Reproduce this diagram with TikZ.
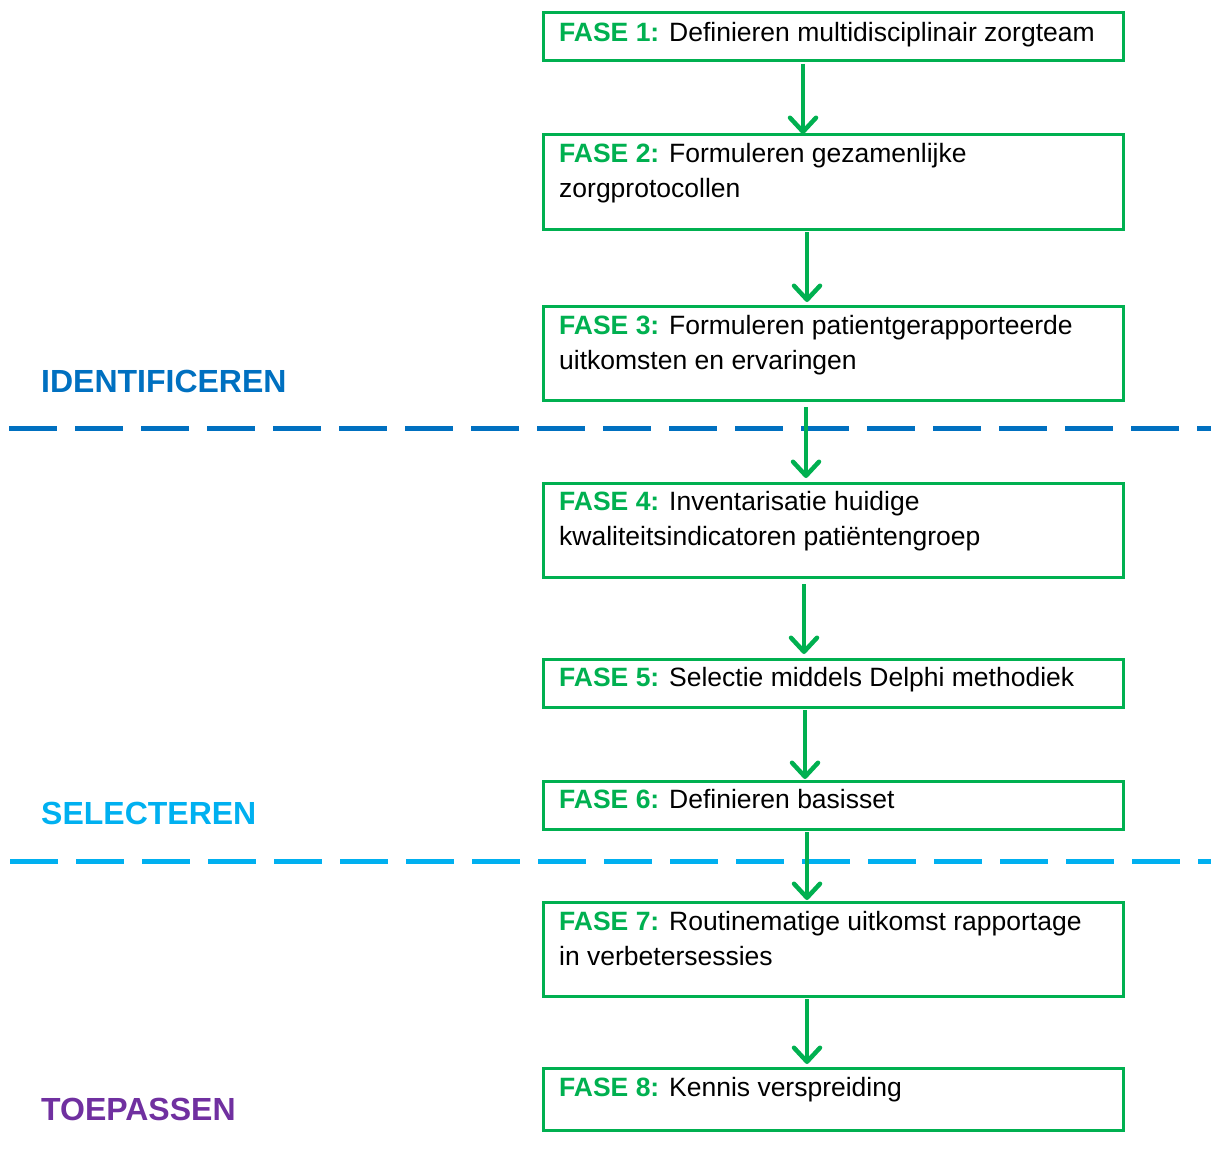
\documentclass[tikz,border=0pt]{standalone}
\usepackage{fontspec}
\setmainfont{Liberation Sans}
\usetikzlibrary{arrows.meta,calc}
\definecolor{fgreen}{HTML}{00B050}
\definecolor{fblue}{HTML}{0070C0}
\definecolor{flblue}{HTML}{00B0F0}
\definecolor{fpurple}{HTML}{7030A0}
\tikzset{
  box/.style={draw=fgreen, line width=3pt, minimum width=580pt, outer sep=0pt, inner sep=0pt, anchor=north west},
  txt/.style={anchor=base west, inner sep=0pt, font=\fontsize{26.5}{35}\selectfont},
  arr/.style={draw=fgreen, line width=4.5pt, -{Straight Barb[length=14pt, width=26pt, line cap=round, line join=round]}},
  phase/.style={anchor=base west, inner sep=0pt, font=\fontsize{32}{38}\selectfont\bfseries},
  sep/.style={line width=5pt, dash pattern=on 48pt off 18pt},
}
\newcommand{\fase}[1]{\textcolor{fgreen}{\textbf{FASE #1:}}}
\newcommand{\twolines}[2]{\begin{tabular}[t]{@{}l@{}}#1\\#2\end{tabular}}
\begin{document}
\begin{tikzpicture}[x=1pt, y=-1pt]
\useasboundingbox (0,0) rectangle (1211,1153);
% boxes
\node[box, minimum height=48pt] (b1) at (543,13) {};
\node[box, minimum height=94pt] (b2) at (543,135) {};
\node[box, minimum height=94pt] (b3) at (543,306) {};
\node[box, minimum height=94pt] (b4) at (543,483) {};
\node[box, minimum height=48pt] (b5) at (543,659) {};
\node[box, minimum height=48pt] (b6) at (543,781) {};
\node[box, minimum height=94pt] (b7) at (543,902) {};
\node[box, minimum height=62pt] (b8) at (543,1068) {};
% texts
\node[txt] (t1) at ($(b1.north west)+(16,29)$) {\fase{1} Definieren multidisciplinair zorgteam};
\node[txt] (t2) at ($(b2.north west)+(16,28)$) {\twolines{\fase{2} Formuleren gezamenlijke}{zorgprotocollen}};
\node[txt] (t3) at ($(b3.north west)+(16,28)$) {\twolines{\fase{3} Formuleren patientgerapporteerde}{uitkomsten en ervaringen}};
\node[txt] (t4) at ($(b4.north west)+(16,27)$) {\twolines{\fase{4} Inventarisatie huidige}{kwaliteitsindicatoren patiëntengroep}};
\node[txt] (t5) at ($(b5.north west)+(16,27)$) {\fase{5} Selectie middels Delphi methodiek};
\node[txt] (t6) at ($(b6.north west)+(16,27)$) {\fase{6} Definieren basisset};
\node[txt] (t7) at ($(b7.north west)+(16,28)$) {\twolines{\fase{7} Routinematige uitkomst rapportage}{in verbetersessies}};
\node[txt] (t8) at ($(b8.north west)+(16,28)$) {\fase{8} Kennis verspreiding};
% phase labels
\node[phase, text=fblue] (p1) at (41,392) {IDENTIFICEREN};
\node[phase, text=flblue] (p2) at (41,824) {SELECTEREN};
\node[phase, text=fpurple] (p3) at (41,1120) {TOEPASSEN};
% separators
\coordinate (s1a) at (9,428);
\coordinate (s1b) at (1211,428);
\coordinate (s2a) at (10,861);
\coordinate (s2b) at (1211,861);
\draw[sep, draw=fblue] (s1a) -- (s1b);
\draw[sep, draw=flblue] (s2a) -- (s2b);
% arrows
\draw[arr] ($(b1.south west)+(260,3)$) -- ($(b2.north west)+(260,-1)$);
\draw[arr] ($(b2.south west)+(264,3)$) -- ($(b3.north west)+(264,-4)$);
\draw[arr] ($(b3.south west)+(263,7)$) -- ($(b4.north west)+(263,-5)$);
\draw[arr] ($(b4.south west)+(261,7)$) -- ($(b5.north west)+(261,-5)$);
\draw[arr] ($(b5.south west)+(262,3)$) -- ($(b6.north west)+(262,-2)$);
\draw[arr] ($(b6.south west)+(264,3)$) -- ($(b7.north west)+(264,-2)$);
\draw[arr] ($(b7.south west)+(264,3)$) -- ($(b8.north west)+(264,-4)$);
\end{tikzpicture}
\end{document}
